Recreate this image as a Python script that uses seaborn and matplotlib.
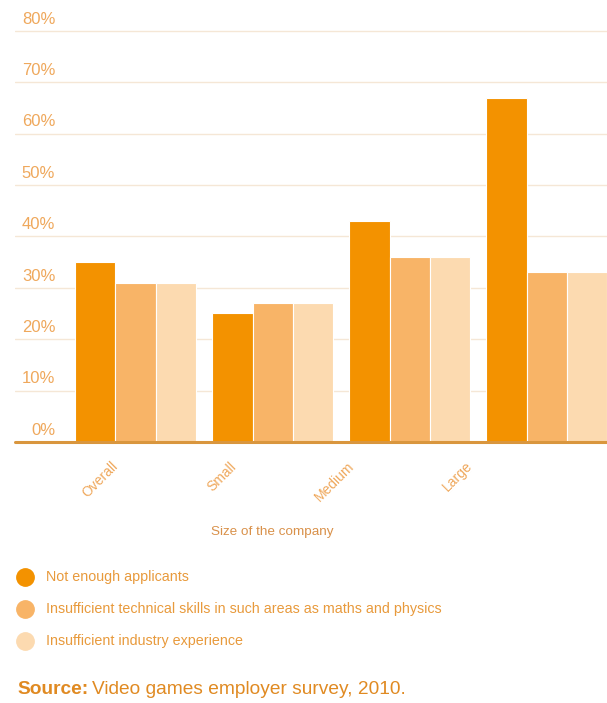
import matplotlib
matplotlib.use("Agg")
import matplotlib.pyplot as plt
from matplotlib.lines import Line2D
import seaborn as sns
import pandas as pd

# Survey results: share of employers reporting each recruitment problem
companies = ["Overall", "Small", "Medium", "Large"]
not_enough_applicants = [35, 25, 43, 67]
insufficient_technical = [31, 27, 36, 33]
insufficient_experience = [31, 27, 36, 33]
series_names = [
    "Not enough applicants",
    "Insufficient technical skills in such areas as maths and physics",
    "Insufficient industry experience",
]
y_ticks = [0, 10, 20, 30, 40, 50, 60, 70, 80]
y_tick_labels = [f"{v}%" for v in y_ticks]

colors = ["#F39200", "#F8B467", "#FCDAB0"]

df = pd.DataFrame({
    "company": companies * 3,
    "problem": [series_names[0]] * 4 + [series_names[1]] * 4 + [series_names[2]] * 4,
    "share": not_enough_applicants + insufficient_technical + insufficient_experience,
})

sns.set_theme(style="white")
plt.rcParams["font.family"] = ["Liberation Sans", "DejaVu Sans"]

W, H = 607, 703
fig = plt.figure(figsize=(W / 100, H / 100), dpi=100)
fig.patch.set_facecolor("white")

ax_left, ax_right = 15 / W, 1.0
ax_bottom, ax_top = (H - 442) / H, (H - 20.5) / H
ax = fig.add_axes([ax_left, ax_bottom, ax_right - ax_left, ax_top - ax_bottom])

sns.barplot(data=df, x="company", y="share", hue="problem", order=companies,
            hue_order=series_names, palette=colors, saturation=1, width=0.88,
            dodge=True, edgecolor="white", linewidth=0.8, legend=False, ax=ax,
            zorder=3)

ax.set_xlim(-0.88, 3.44)
ax.set_ylim(0, 82)

# light horizontal gridlines with labels sitting just above them
grid_col = "#F5E7D6"
for v, lab in zip(y_ticks, y_tick_labels):
    if v > 0:
        ax.axhline(v, color=grid_col, lw=1.0, zorder=1)
    ax.annotate(lab, xy=(0.068, v), xycoords=("axes fraction", "data"),
                xytext=(0, 3), textcoords="offset points",
                ha="right", va="bottom", fontsize=12, color="#EFA85C")
ax.axhline(0, color="#D9963E", lw=2.2, zorder=4, clip_on=False)

ax.set_yticks([])
ax.set_xlabel("")
ax.set_ylabel("")
ax.tick_params(axis="x", length=0, labelbottom=False)
for s in ax.spines.values():
    s.set_visible(False)

# category labels on their own evenly spaced scale
ax2 = ax.twiny()
ax2.set_xlim(-0.856, 4.161)
ax2.set_xticks(range(len(companies)))
ax2.set_xticklabels(companies, rotation=45, ha="right", va="center",
                    rotation_mode="anchor", fontsize=10, color="#EFA85C")
ax2.xaxis.set_ticks_position("bottom")
ax2.tick_params(axis="x", length=0, pad=16)
ax2.set_yticks([])
for s in ax2.spines.values():
    s.set_visible(False)
ax2.patch.set_visible(False)

fig.text(272 / W, 1 - 532 / H, "Size of the company", ha="center", va="center",
         fontsize=9.7, color="#D9914A")

# legend with round swatches
for i, (name, c) in enumerate(zip(series_names, colors)):
    yc = 1 - (577 + 32 * i) / H
    fig.add_artist(Line2D([25 / W], [yc], marker="o", markersize=12.5,
                          markerfacecolor=c, markeredgecolor=c,
                          transform=fig.transFigure, linestyle="none"))
    fig.text(46 / W, yc, name, ha="left", va="center", fontsize=10.3,
             color="#E89A3C")

# source line
src_y = 1 - 690 / H
t1 = fig.text(17 / W, src_y, "Source:", ha="left", va="center", fontsize=13.8,
              fontweight="bold", color="#E08A22")
fig.canvas.draw()
bb = t1.get_window_extent(renderer=fig.canvas.get_renderer())
fig.text(bb.x1 / W + 4 / W, src_y, "Video games employer survey, 2010.",
         ha="left", va="center", fontsize=13.8, color="#E08A22")

fig.savefig("out.png", dpi=100, facecolor="white")
